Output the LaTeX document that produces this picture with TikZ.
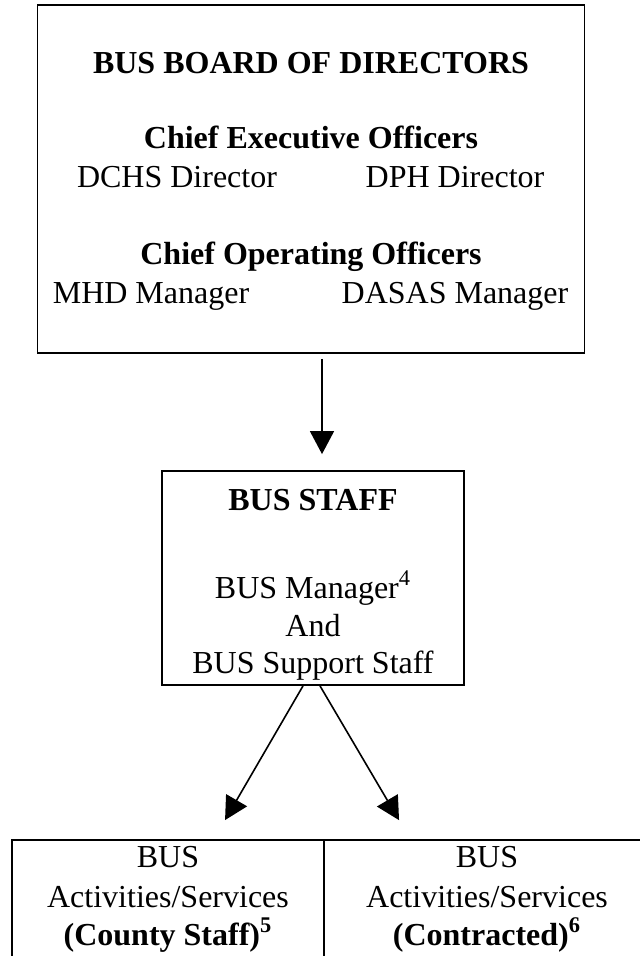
\documentclass[tikz,border=0pt]{standalone}
\usepackage{fontspec}
\setmainfont{Liberation Serif}
\usetikzlibrary{arrows.meta, positioning}

\tikzset{
  box/.style  = {draw, rectangle, line width=0.9pt, inner sep=0pt},
  txt/.style  = {draw=none, anchor=base, inner sep=0pt,
                 font=\fontsize{16}{19}\selectfont},
  head/.style = {txt, font=\fontsize{16}{19}\selectfont\bfseries},
  arr/.style  = {-{Triangle[length=11.5pt,width=12pt]}, line width=0.8pt},
}

\begin{document}
\begin{tikzpicture}[x=0.5pt, y=-0.5pt]
\useasboundingbox (0,0) rectangle (640,956);

%--- boxes
\node (board) [box, minimum width=273.5pt, minimum height=174pt] at (311,179) {};
\node (staff) [box, minimum width=151pt, minimum height=107pt] at (313,578) {};
\node (county) [box, minimum width=156pt, minimum height=100pt] at (168,940) {};
\node (contract) [box, minimum width=163pt, minimum height=100pt] at (487,940) {};

%--- board of directors
\node (b_title) [head] at (311,74)  {BUS BOARD OF DIRECTORS};
\node (ceo)     [head] at (311,149) {Chief Executive Officers};
\node (dchs)    [txt]  at (177,188) {DCHS Director};
\node (dph)     [txt]  at (455,188) {DPH Director};
\node (coo)     [head] at (311,265) {Chief Operating Officers};
\node (mhd)     [txt]  at (151,304) {MHD Manager};
\node (dasas)   [txt]  at (455,304) {DASAS Manager};

%--- staff
\node (s_title) [head] at (313,510) {BUS STAFF};
\node (s_mgr)   [txt]  at (313,598) {BUS Manager\textsuperscript{4}};
\node (s_and)   [txt]  at (313,636) {And};
\node (s_supp)  [txt]  at (313,673) {BUS Support Staff};

%--- activities / services
\node (c_bus)   [txt]  at (168,867) {BUS};
\node (c_act)   [txt]  at (168,907) {Activities/Services};
\node (c_type)  [head] at (168,945) {(County Staff)\textsuperscript{5}};
\node (k_bus)   [txt]  at (487,867) {BUS};
\node (k_act)   [txt]  at (487,907) {Activities/Services};
\node (k_type)  [head] at (487,945) {(Contracted)\textsuperscript{6}};

%--- arrows
\draw[arr, shorten <=2.5pt, shorten >=8pt]
        ([xshift=5.5pt]board.south) -- ([xshift=4.5pt]staff.north);
\draw[arr, shorten >=11pt]
        ([xshift=-5pt]staff.south) -- ([xshift=23pt]county.north);
\draw[arr, shorten >=11pt]
        ([xshift=3.5pt]staff.south) -- ([xshift=-38.4pt]contract.north);
\end{tikzpicture}
\end{document}
